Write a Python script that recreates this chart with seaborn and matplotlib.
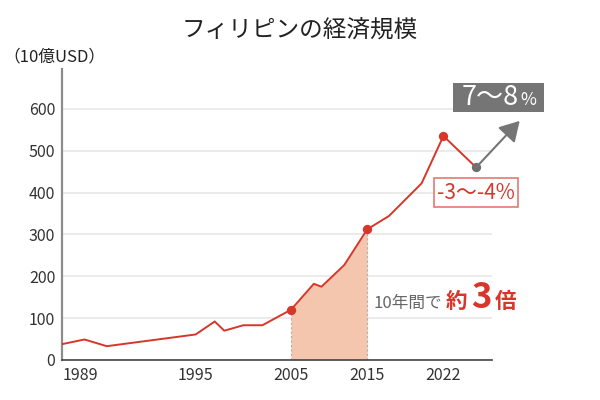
import numpy as np
import pandas as pd
import matplotlib
matplotlib.use("Agg")
import matplotlib.pyplot as plt
import seaborn as sns
from matplotlib.offsetbox import TextArea, HPacker, DrawingArea, AnnotationBbox

# values (10億USD)
years = [1989, 1990, 1991, 1995, 1997, 1998, 2000, 2002, 2005, 2008, 2009,
         2012, 2015, 2017, 2020, 2022, 2025]
gdp = [38, 49, 33, 61, 92, 70, 83, 83, 120, 182, 175, 227, 312, 344, 422,
       535, 460]
highlight_years = [2005, 2015, 2022]
forecast_year = 2025
trend_end = (2029, 571)
x_ticks = [1989, 1995, 2005, 2015, 2022]
y_ticks = [0, 100, 200, 300, 400, 500, 600]

title = "フィリピンの経済規模"
unit_label = "（10億USD）"
drop_label = "-3〜-4%"

RED = "#d8362a"
GREY = "#757575"
PEACH = "#f3c6ad"

# the source chart squeezes the later decades, so map years piecewise
scale_years = [1980, 1989, 1995, 2005, 2015, 2022, 2040]
scale_pos = [-15.75, 0, 10.5, 18, 24, 30, 45.43]


def fwd(x):
    return np.interp(x, scale_years, scale_pos)


def inv(x):
    return np.interp(x, scale_pos, scale_years)


df = pd.DataFrame({"year": years, "gdp": gdp})
value = dict(zip(years, gdp))

sns.set_theme(style="white")
plt.rcParams["font.family"] = ["Noto Sans CJK JP", "DejaVu Sans"]

fig = plt.figure(figsize=(6, 4), dpi=100)
ax = fig.add_axes([0.1038, 0.1, 0.7157, 0.7275])

sns.lineplot(data=df, x="year", y="gdp", ax=ax, color=RED, lw=1.4, zorder=3)

span = df[(df.year >= 2005) & (df.year <= 2015)]
ax.fill_between(span.year, span.gdp, color=PEACH, lw=0, zorder=1)
ax.vlines([2005, 2015], 0, [value[2005], value[2015]], colors="#b0b0b0",
          linestyles=(0, (2, 2)), lw=0.8, zorder=2)

sns.scatterplot(x=highlight_years, y=[value[y] for y in highlight_years],
                ax=ax, color=RED, s=45, linewidth=0, zorder=4)
sns.scatterplot(x=[forecast_year], y=[value[forecast_year]], ax=ax,
                color="#6e6e6e", s=45, linewidth=0, zorder=4)

ax.annotate("", xy=trend_end, xytext=(forecast_year, value[forecast_year]),
            arrowprops=dict(arrowstyle="-|>,head_length=0.6,head_width=0.35",
                            color=GREY, lw=1.5, mutation_scale=20,
                            shrinkA=0, shrinkB=0),
            annotation_clip=False, zorder=5)

ax.set_xscale("function", functions=(fwd, inv))
ax.set_xlim(1989, inv(33.8))
ax.set_ylim(0, 695)
ax.set_xticks(x_ticks)
ax.set_xticklabels([str(t) for t in x_ticks])
ax.set_yticks(y_ticks)
ax.xaxis.set_minor_locator(matplotlib.ticker.NullLocator())
ax.set_xlabel("")
ax.set_ylabel("")
ax.get_xticklabels()[0].set_ha("left")

ax.yaxis.grid(True, color="#e6e6e6", lw=1.1)
ax.xaxis.grid(False)
ax.set_axisbelow(True)
ax.tick_params(length=0, labelsize=11.5, labelcolor="#333333", pad=5)
for side in ["top", "right"]:
    ax.spines[side].set_visible(False)
ax.spines["left"].set_color("#8c8c8c")
ax.spines["left"].set_linewidth(1.6)
ax.spines["bottom"].set_color("#444444")
ax.spines["bottom"].set_linewidth(1.2)

# drop after the peak
ax.text(forecast_year, 400, drop_label, ha="center", va="center", color=RED,
        fontsize=15, zorder=6,
        bbox=dict(boxstyle="square,pad=0.15", fc="white", ec="#e47a70", lw=1.2))

# growth outlook box
growth = HPacker(children=[
    DrawingArea(4, 1),
    TextArea("7〜8", textprops=dict(color="white", fontsize=19.5)),
    TextArea("%", textprops=dict(color="white", fontsize=12.5)),
    DrawingArea(4, 1),
], align="baseline", pad=0, sep=1)
ax.add_artist(AnnotationBbox(growth, (2027.07, 627), box_alignment=(0.5, 0.5),
                             annotation_clip=False, zorder=6,
                             bboxprops=dict(boxstyle="square,pad=0.08",
                                            fc=GREY, ec="none")))

# "about 3x in 10 years"
times = HPacker(children=[
    TextArea("10年間で", textprops=dict(color="#666666", fontsize=12)),
    TextArea("約", textprops=dict(color=RED, fontsize=15.5, fontweight="bold")),
    TextArea("3", textprops=dict(color=RED, fontsize=25, fontweight="bold")),
    TextArea("倍", textprops=dict(color=RED, fontsize=15.5, fontweight="bold")),
], align="baseline", pad=0, sep=2.5)
ax.add_artist(AnnotationBbox(times, (2015.6, 150), box_alignment=(0, 0.5),
                             frameon=False, annotation_clip=False, zorder=6))

fig.text(0.5, 0.925, title, ha="center", va="center", fontsize=17,
         color="#222222")
fig.text(0.005, 0.857, unit_label, ha="left", va="center", fontsize=12,
         color="#222222")

fig.savefig("out.png", dpi=100)
